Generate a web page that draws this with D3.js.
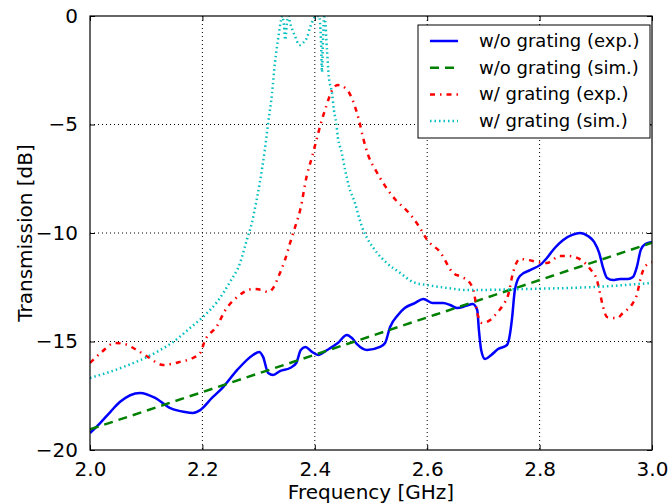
<!DOCTYPE html>
<html>
<head>
<meta charset="utf-8">
<script src="https://cdn.jsdelivr.net/npm/d3@7"></script>
<style>
  body { margin: 0; background: #fff; }
  svg { font-family: "DejaVu Sans", sans-serif; }
</style>
</head>
<body>
<div id="viz"></div>
<script>
// data: [frequency GHz, transmission dB]
var woExp = [
  [2.000, -19.22], [2.018, -18.76], [2.036, -18.25], [2.053, -17.79], [2.089, -17.37],
  [2.116, -17.60], [2.142, -18.06], [2.169, -18.25], [2.183, -18.29], [2.196, -18.16],
  [2.217, -17.60], [2.237, -17.10], [2.262, -16.31], [2.290, -15.62], [2.301, -15.48],
  [2.308, -15.71], [2.317, -16.45], [2.326, -16.54], [2.338, -16.36], [2.356, -16.22],
  [2.367, -15.99], [2.375, -15.39], [2.383, -15.25], [2.395, -15.48], [2.406, -15.62],
  [2.422, -15.39], [2.441, -15.07], [2.457, -14.70], [2.466, -14.84], [2.475, -15.12],
  [2.493, -15.39], [2.516, -15.25], [2.525, -15.07], [2.534, -14.33], [2.548, -13.78],
  [2.560, -13.46], [2.578, -13.23], [2.593, -13.04], [2.610, -13.23], [2.628, -13.23],
  [2.641, -13.32], [2.653, -13.46], [2.669, -13.36], [2.681, -13.27], [2.689, -13.55],
  [2.692, -14.47], [2.696, -15.39], [2.703, -15.81], [2.714, -15.62], [2.726, -15.35],
  [2.742, -15.16], [2.747, -14.70], [2.751, -13.92], [2.756, -12.63], [2.765, -11.98],
  [2.783, -11.71], [2.801, -11.47], [2.813, -11.15], [2.827, -10.69], [2.842, -10.32],
  [2.858, -10.09], [2.872, -10.00], [2.886, -10.14], [2.897, -10.41], [2.906, -10.92],
  [2.913, -11.61], [2.920, -12.07], [2.931, -12.17], [2.943, -12.12], [2.957, -12.12],
  [2.966, -12.03], [2.973, -11.57], [2.980, -10.78], [2.988, -10.51], [3.000, -10.41]
];

var woSim = [
  [2.00, -19.05], [2.25, -16.90], [2.50, -14.75], [2.75, -12.60], [3.00, -10.45]
];

var wExp = [
  [2.000, -15.99], [2.021, -15.48], [2.044, -15.07], [2.062, -15.12], [2.077, -15.30],
  [2.103, -15.71], [2.130, -16.08], [2.160, -15.94], [2.183, -15.76], [2.196, -15.53],
  [2.205, -14.93], [2.226, -14.29], [2.240, -13.59], [2.262, -12.95], [2.290, -12.58],
  [2.306, -12.63], [2.317, -12.72], [2.327, -12.49], [2.335, -12.03], [2.347, -11.24],
  [2.356, -10.46], [2.365, -9.72], [2.374, -8.94], [2.386, -7.33], [2.395, -6.50],
  [2.402, -5.81], [2.411, -4.93], [2.420, -4.19], [2.431, -3.41], [2.441, -3.18],
  [2.456, -3.36], [2.470, -4.06], [2.479, -4.84], [2.486, -5.62], [2.495, -6.41],
  [2.509, -7.14], [2.525, -7.83], [2.544, -8.48], [2.566, -9.03], [2.585, -9.68],
  [2.600, -10.32], [2.623, -10.88], [2.646, -11.84], [2.662, -12.03], [2.676, -12.30],
  [2.683, -12.72], [2.690, -13.78], [2.698, -14.15], [2.712, -14.01], [2.724, -13.69],
  [2.735, -13.32], [2.744, -12.86], [2.753, -11.80], [2.765, -11.20], [2.779, -11.24],
  [2.797, -11.34], [2.813, -11.38], [2.836, -11.06], [2.851, -11.06], [2.867, -11.15],
  [2.890, -11.66], [2.902, -12.17], [2.907, -12.72], [2.913, -13.41], [2.920, -13.87],
  [2.938, -13.92], [2.948, -13.69], [2.966, -13.23], [2.973, -12.86], [2.979, -12.17],
  [2.986, -11.61], [2.996, -11.38], [3.000, -11.34]
];

var wSim = [
  [2.000, -16.68], [2.059, -16.18], [2.119, -15.48], [2.148, -15.02], [2.178, -14.38],
  [2.201, -13.87], [2.226, -13.18], [2.249, -12.26], [2.267, -11.38], [2.279, -10.32],
  [2.288, -9.54], [2.294, -8.80], [2.302, -7.70], [2.311, -6.18], [2.317, -4.93],
  [2.324, -3.55], [2.329, -2.17], [2.335, -1.01], [2.340, -0.18], [2.3425, 0.00],
  [2.345, -0.41], [2.3475, -1.10], [2.350, -0.41], [2.3525, 0.00], [2.357, -0.41],
  [2.364, -0.88], [2.373, -1.34], [2.379, -1.24], [2.386, -1.00], [2.392, -0.50],
  [2.397, -0.18], [2.402, 0.00], [2.4075, 0.00], [2.411, -1.10], [2.4128, -2.58],
  [2.4146, -1.10], [2.4164, -0.05], [2.418, -0.14], [2.4217, -1.57], [2.425, -2.81],
  [2.4306, -3.55], [2.434, -4.33], [2.438, -4.93], [2.441, -5.58], [2.448, -6.31],
  [2.454, -7.10], [2.461, -7.88], [2.4715, -8.62], [2.480, -9.40], [2.484, -9.72],
  [2.495, -10.32], [2.511, -10.92], [2.528, -11.38], [2.552, -11.84], [2.575, -12.26],
  [2.600, -12.40], [2.635, -12.53], [2.671, -12.63], [2.778, -12.58], [2.895, -12.49],
  [3.000, -12.30]
];

var xTicks = [2.0, 2.2, 2.4, 2.6, 2.8, 3.0];
var yTicks = [0, -5, -10, -15, -20];
var seriesNames = ['w/o grating (exp.)', 'w/o grating (sim.)', 'w/ grating (exp.)', 'w/ grating (sim.)'];

var width = 670,
    height = 503,
    mLeft = 90, mRight = 652, mTop = 16, mBottom = 450;

var series = [
  {name: seriesNames[0], data: woExp, color: '#0000ff', dash: null, w: 2.5},
  {name: seriesNames[1], data: woSim, color: '#008000', dash: '9,6', w: 2.5},
  {name: seriesNames[2], data: wExp, color: '#ff0000', dash: '5,5,1.5,5', w: 2.5},
  {name: seriesNames[3], data: wSim, color: '#00bfbf', dash: '1.5,3', w: 2.5}
];

var xScale = d3.scaleLinear().domain([2, 3]).range([mLeft, mRight]);
var yScale = d3.scaleLinear().domain([-20, 0]).range([mBottom, mTop]);

var svg = d3.select('#viz').append('svg')
  .attr('width', width)
  .attr('height', height);

svg.append('defs').append('clipPath').attr('id', 'plotclip')
  .append('rect')
  .attr('x', mLeft).attr('y', mTop)
  .attr('width', mRight - mLeft).attr('height', mBottom - mTop);

// grid
var grid = svg.append('g');
grid.selectAll('.gx').data(xTicks.slice(1, -1)).enter().append('line')
  .attr('x1', function(d){ return xScale(d); })
  .attr('x2', function(d){ return xScale(d); })
  .attr('y1', mTop).attr('y2', mBottom)
  .attr('stroke', '#000').attr('stroke-width', 1)
  .attr('stroke-dasharray', '1,3');
grid.selectAll('.gy').data(yTicks.slice(1, -1)).enter().append('line')
  .attr('y1', function(d){ return yScale(d); })
  .attr('y2', function(d){ return yScale(d); })
  .attr('x1', mLeft).attr('x2', mRight)
  .attr('stroke', '#000').attr('stroke-width', 1)
  .attr('stroke-dasharray', '1,3');

// lines
var line = d3.line()
  .x(function(d){ return xScale(d[0]); })
  .y(function(d){ return yScale(d[1]); })
  .curve(d3.curveMonotoneX);

svg.append('g').attr('clip-path', 'url(#plotclip)')
  .selectAll('path').data(series)
  .enter().append('path')
  .attr('d', function(d){ return line(d.data); })
  .attr('fill', 'none')
  .attr('stroke', function(d){ return d.color; })
  .attr('stroke-width', function(d){ return d.w; })
  .attr('stroke-dasharray', function(d){ return d.dash; });

// axes, ticks inside on all four sides
var fmtX = d3.format('.1f');
var fmtY = function(d){ return d < 0 ? '\u2212' + Math.abs(d) : String(d); };

svg.append('g').attr('transform', 'translate(0,' + mBottom + ')')
  .call(d3.axisBottom(xScale).tickValues(xTicks).tickFormat(fmtX).tickSizeInner(-5).tickSizeOuter(0).tickPadding(12))
  .call(function(g){ g.select('.domain').remove(); });
svg.append('g').attr('transform', 'translate(0,' + mTop + ')')
  .call(d3.axisTop(xScale).tickValues(xTicks).tickFormat('').tickSizeInner(-5).tickSizeOuter(0))
  .call(function(g){ g.select('.domain').remove(); });
svg.append('g').attr('transform', 'translate(' + mLeft + ',0)')
  .call(d3.axisLeft(yScale).tickValues(yTicks).tickFormat(fmtY).tickSizeInner(-5).tickSizeOuter(0).tickPadding(12))
  .call(function(g){ g.select('.domain').remove(); });
svg.append('g').attr('transform', 'translate(' + mRight + ',0)')
  .call(d3.axisRight(yScale).tickValues(yTicks).tickFormat('').tickSizeInner(-5).tickSizeOuter(0))
  .call(function(g){ g.select('.domain').remove(); });

svg.selectAll('.tick text')
  .attr('font-size', 20)
  .attr('font-family', 'DejaVu Sans')
  .attr('fill', '#000');
svg.selectAll('.tick line').attr('stroke', '#000');

svg.append('rect')
  .attr('x', mLeft).attr('y', mTop)
  .attr('width', mRight - mLeft).attr('height', mBottom - mTop)
  .attr('fill', 'none').attr('stroke', '#000').attr('stroke-width', 1.2);

// axis labels
svg.append('text')
  .attr('x', (mLeft + mRight) / 2).attr('y', 499)
  .attr('text-anchor', 'middle')
  .attr('font-size', 20)
  .text('Frequency [GHz]');

svg.append('text')
  .attr('transform', 'translate(32,' + (mTop + mBottom) / 2 + ') rotate(-90)')
  .attr('text-anchor', 'middle')
  .attr('font-size', 20)
  .text('Transmission [dB]');

// legend
var legend = svg.append('g');
legend.append('rect')
  .attr('x', 418).attr('y', 25).attr('width', 232).attr('height', 113)
  .attr('fill', '#fff').attr('stroke', '#000').attr('stroke-width', 1);

var rows = legend.selectAll('.row').data(series).enter().append('g')
  .attr('transform', function(d, i){ return 'translate(0,' + (41 + i * 26.7) + ')'; });
rows.append('line')
  .attr('x1', 430).attr('x2', 458).attr('y1', 0).attr('y2', 0)
  .attr('stroke', function(d){ return d.color; })
  .attr('stroke-width', function(d){ return d.w; })
  .attr('stroke-dasharray', function(d){ return d.dash; });
rows.append('text')
  .attr('x', 479).attr('y', 6)
  .attr('font-size', 18)
  .text(function(d){ return d.name; });
</script>
</body>
</html>
